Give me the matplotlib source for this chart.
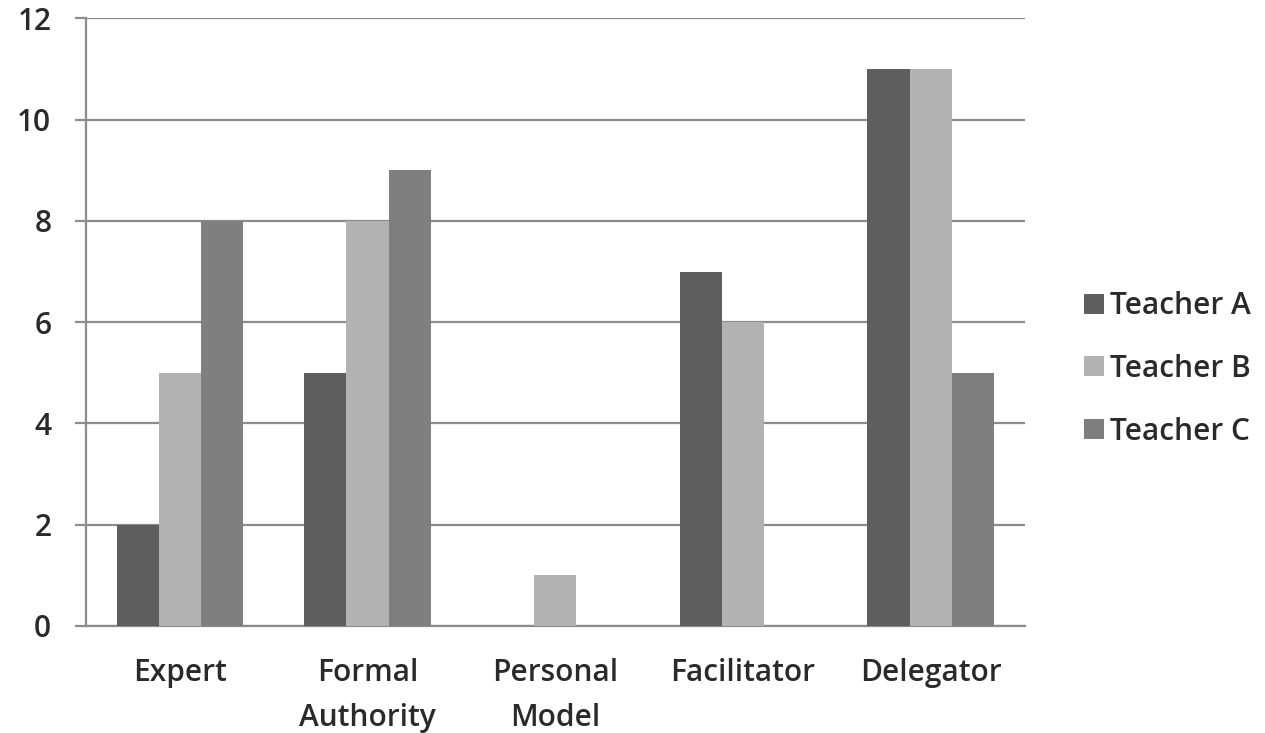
import numpy as np
import matplotlib.pyplot as plt

plt.rcParams['font.family'] = ['Open Sans', 'DejaVu Sans']

categories = ["Expert", "Formal\nAuthority", "Personal\nModel", "Facilitator", "Delegator"]
teacher_a = [2, 5, 0, 7, 11]
teacher_b = [5, 8, 1, 6, 11]
teacher_c = [8, 9, 0, 0, 5]
series = ["Teacher A", "Teacher B", "Teacher C"]
colors = ["#5e5e5e", "#b2b2b2", "#7f7f7f"]

fig = plt.figure(figsize=(12.65, 7.33), dpi=100)
ax = fig.add_axes([0.068, 0.146, 0.742, 0.829])

x = np.arange(len(categories))
w = 0.225
for i, (vals, name) in enumerate(zip([teacher_a, teacher_b, teacher_c], series)):
    ax.bar(x + (i - 1) * w, vals, width=w, color=colors[i], label=name, zorder=3)

ax.set_xlim(-0.5, len(categories) - 0.5)
ax.set_ylim(0, 12)
ax.set_yticks(range(0, 13, 2))
ax.yaxis.grid(True, color="#8c8c8c", linewidth=1.6, zorder=0)
ax.set_xticks(x)
ax.set_xticklabels(categories, fontsize=21.5, color="#2a2a2a", linespacing=1.65,
                   fontweight="semibold")
ax.tick_params(axis="x", length=0, pad=23)
ax.tick_params(axis="y", labelsize=21.5, labelcolor="#2a2a2a", length=8, width=1.6,
               color="#8c8c8c", pad=17)
for t in ax.get_yticklabels():
    t.set_fontweight("semibold")

for s in ["top", "right"]:
    ax.spines[s].set_visible(False)
for s in ["left", "bottom"]:
    ax.spines[s].set_color("#8c8c8c")
    ax.spines[s].set_linewidth(1.6)

ax.legend(loc="center left", bbox_to_anchor=(1.035, 0.423), frameon=False,
          prop={"size": 21.5, "weight": "semibold"},
          handlelength=0.65, handleheight=0.65, handletextpad=0.2, labelspacing=1.1,
          labelcolor="#2a2a2a")

plt.savefig("out.png", dpi=100)
